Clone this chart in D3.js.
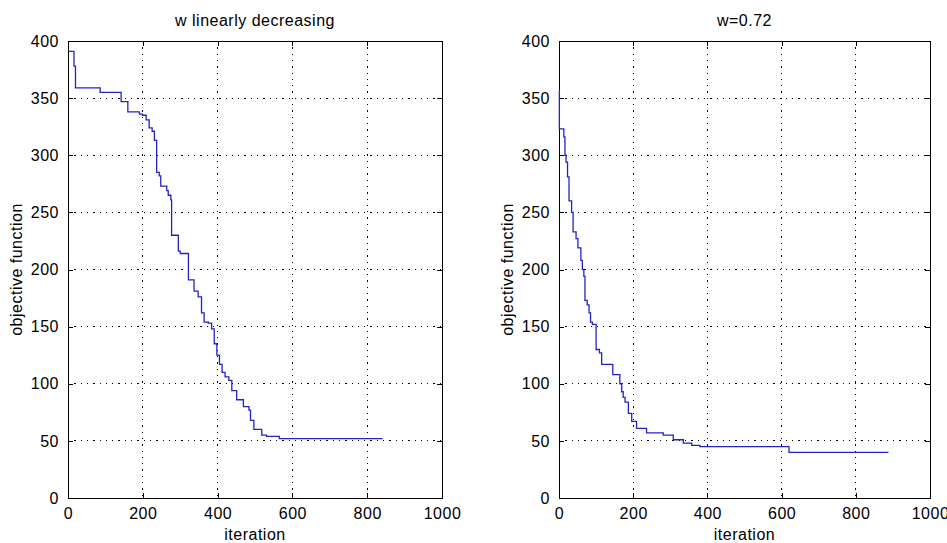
<!DOCTYPE html>
<html>
<head>
<meta charset="utf-8">
<script src="https://cdn.jsdelivr.net/npm/d3@7"></script>
<style>
  body { margin: 0; background: #fff; }
  svg text { font-family: "Liberation Sans", Arial, sans-serif; font-size: 16px; letter-spacing: 0.5px; fill: #000; }
</style>
</head>
<body>
<svg id="chart" width="947" height="543"></svg>
<script>
// step breakpoints: [iteration, objective]
const linearIter = [0, 16, 20, 86, 142, 160, 191, 199, 209, 217, 225, 231, 237, 244, 248, 264, 268, 275, 277, 295, 300, 322, 337, 348, 357, 364, 375, 384, 391, 398, 405, 412, 420, 430, 438, 451, 469, 484, 488, 497, 518, 531, 565, 841]
const linearObj = [391, 378, 359, 355, 347, 338, 336, 335, 331, 324, 321, 313, 285, 282, 273, 269, 265, 261, 230, 216, 214, 191, 181, 176, 162, 154, 153, 148, 135, 125, 117, 110, 106, 103, 94, 86, 80, 77, 68, 60, 55, 54, 52, 52]

const constIter = [0, 1, 13, 16, 19, 23, 27, 34, 38, 46, 51, 59, 63, 67, 70, 76, 81, 85, 90, 100, 109, 115, 145, 164, 169, 173, 178, 187, 196, 209, 236, 281, 308, 335, 358, 380, 609, 620, 888]
const constObj = [357, 323, 316, 300, 294, 281, 260, 250, 233, 227, 219, 208, 200, 194, 173, 169, 162, 154, 152, 130, 127, 117, 108, 100, 93, 88, 84, 74, 67, 61, 57, 55, 51, 48, 46, 45, 45, 40, 40]

const xTicks = [0, 200, 400, 600, 800, 1000]
const yTicks = [0, 50, 100, 150, 200, 250, 300, 350, 400]

const panels = [
    {title: 'w linearly decreasing', iter: linearIter, obj: linearObj, left: 68, right: 442},
    {title: 'w=0.72', iter: constIter, obj: constObj, left: 559, right: 930}
]

const plotTop = 41, plotBottom = 498
const svg = d3.select('#chart')
const fmt = d3.format('d')

panels.forEach(p => {
    const x = d3.scaleLinear().domain([0, 1000]).range([p.left, p.right])
    const y = d3.scaleLinear().domain([0, 400]).range([plotBottom, plotTop])
    const g = svg.append('g')

    // dotted grid on the inner ticks
    const gridData = xTicks.slice(1, -1).map(v => ({v, dir: 'x'}))
        .concat(yTicks.slice(1, -1).map(v => ({v, dir: 'y'})))
    g.append('g').selectAll('line')
        .data(gridData)
        .join('line')
        .attr('x1', d => d.dir === 'x' ? x(d.v) : p.left)
        .attr('x2', d => d.dir === 'x' ? x(d.v) : p.right)
        .attr('y1', d => d.dir === 'x' ? plotTop : y(d.v))
        .attr('y2', d => d.dir === 'x' ? plotBottom : y(d.v))
        .attr('stroke', '#000')
        .attr('stroke-width', 1)
        .attr('stroke-dasharray', '1.3,5')
        .attr('shape-rendering', 'crispEdges')

    // axes with inward ticks (matlab style)
    const xAxis = g.append('g')
        .attr('transform', `translate(0,${plotBottom})`)
        .call(d3.axisBottom(x).tickValues(xTicks).tickFormat(fmt).tickSizeInner(-5).tickSizeOuter(0).tickPadding(10))
    const yAxis = g.append('g')
        .attr('transform', `translate(${p.left},0)`)
        .call(d3.axisLeft(y).tickValues(yTicks).tickFormat(fmt).tickSizeInner(-5).tickSizeOuter(0).tickPadding(9))
    const xTop = g.append('g')
        .attr('transform', `translate(0,${plotTop})`)
        .call(d3.axisTop(x).tickValues(xTicks).tickSizeInner(-5).tickSizeOuter(0).tickFormat(''))
    const yRight = g.append('g')
        .attr('transform', `translate(${p.right},0)`)
        .call(d3.axisRight(y).tickValues(yTicks).tickSizeInner(-5).tickSizeOuter(0).tickFormat(''))

    ;[xAxis, yAxis, xTop, yRight].forEach(a => {
        a.selectAll('path, line').attr('stroke', '#000').attr('shape-rendering', 'crispEdges')
        a.selectAll('text').attr('font-size', null).attr('font-family', null)
    })

    // the objective curve
    const pts = p.iter.map((it, i) => [it, p.obj[i]])
    g.append('path')
        .datum(pts)
        .attr('fill', 'none')
        .attr('stroke', '#2323c4')
        .attr('stroke-width', 1.3)
        .attr('d', d3.line().x(d => x(d[0])).y(d => y(d[1])).curve(d3.curveStepAfter))

    // labels
    g.append('text')
        .attr('x', (p.left + p.right) / 2)
        .attr('y', 26)
        .attr('text-anchor', 'middle')
        .text(p.title)
    g.append('text')
        .attr('x', (p.left + p.right) / 2)
        .attr('y', 540)
        .attr('text-anchor', 'middle')
        .text('iteration')
    g.append('text')
        .attr('transform', `translate(${p.left - 46},${(plotTop + plotBottom) / 2}) rotate(-90)`)
        .attr('text-anchor', 'middle')
        .text('objective function')
})
</script>
</body>
</html>
